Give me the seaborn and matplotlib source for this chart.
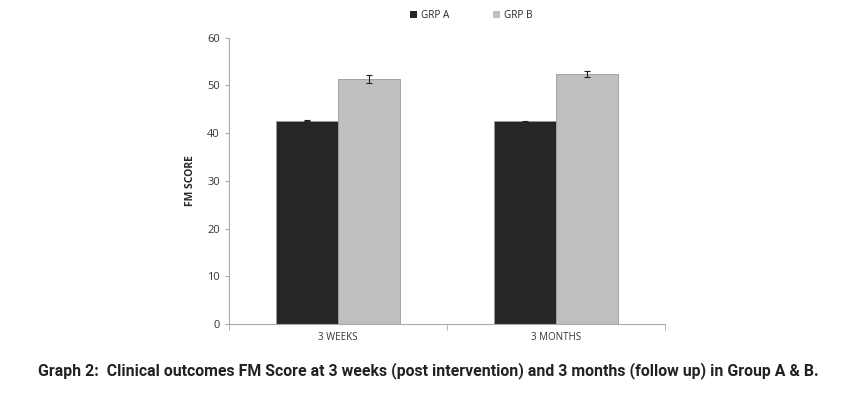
import matplotlib
matplotlib.use("Agg")
import matplotlib.pyplot as plt
import pandas as pd
import seaborn as sns

# values
periods = ["3 WEEKS", "3 MONTHS"]
groups = ["GRP A", "GRP B"]
grp_a = [42.6, 42.5]
grp_b = [51.4, 52.4]
err_a = [0.15, 0.15]
err_b = [0.8, 0.7]

df = pd.DataFrame({
    "period": periods * 2,
    "group": [groups[0]] * 2 + [groups[1]] * 2,
    "score": grp_a + grp_b,
    "err": err_a + err_b,
})

sns.set_style("white")
plt.rcParams["font.family"] = ["Open Sans", "DejaVu Sans"]

fig = plt.figure(figsize=(8.64, 3.94), dpi=100)
ax = fig.add_axes([0.265, 0.178, 0.505, 0.726])

palette = {"GRP A": "#262626", "GRP B": "#bfbfbf"}
sns.barplot(data=df, x="period", y="score", hue="group", order=periods, hue_order=groups,
            palette=palette, errorbar=None, width=0.57, saturation=1,
            edgecolor="#9a9a9a", linewidth=0.6, ax=ax)

# error bars on bar centres
for container, g in zip(ax.containers, groups):
    sub = df[df["group"] == g].set_index("period").loc[periods]
    xs = [p.get_x() + p.get_width() / 2 for p in container.patches]
    ax.errorbar(xs, sub["score"], yerr=sub["err"], fmt="none", ecolor="#222222",
                elinewidth=0.8, capsize=2, capthick=0.8)

ax.set_xlim(-0.5, 1.5)
ax.set_ylim(0, 60)
ax.set_yticks(range(0, 61, 10))
ax.set_xlabel("")
ax.set_ylabel("FM SCORE", fontsize=7.5, fontweight="bold", labelpad=8)
ax.tick_params(axis="y", labelsize=8, colors="#333333", length=3, direction="out", left=True, color="#aaaaaa")
ax.tick_params(axis="x", labelsize=7, colors="#333333", length=0, pad=6)
for side in ["top", "right"]:
    ax.spines[side].set_visible(False)
for side in ["left", "bottom"]:
    ax.spines[side].set_color("#aaaaaa")
    ax.spines[side].set_linewidth(0.8)
# category boundary ticks (Excel style)
ax.set_xticks([-0.5, 0.5, 1.5], minor=True)
ax.tick_params(axis="x", which="minor", length=4, color="#aaaaaa", bottom=True)

leg = ax.legend(loc="center", bbox_to_anchor=(0.555, 1.077), ncol=2, frameon=False,
                fontsize=7.2, handlelength=0.7, handleheight=0.7, columnspacing=4.4, handletextpad=0.4)
for h in leg.legend_handles:
    h.set_edgecolor("none")

fig.text(0.496, 0.06, "Graph 2:  Clinical outcomes FM Score at 3 weeks (post intervention) and 3 months (follow up) in Group A & B.",
         ha="center", va="center", fontsize=11.4, fontweight="bold",
         family=["Roboto", "DejaVu Sans"], color="#222222")

fig.savefig("out.png", dpi=100)
